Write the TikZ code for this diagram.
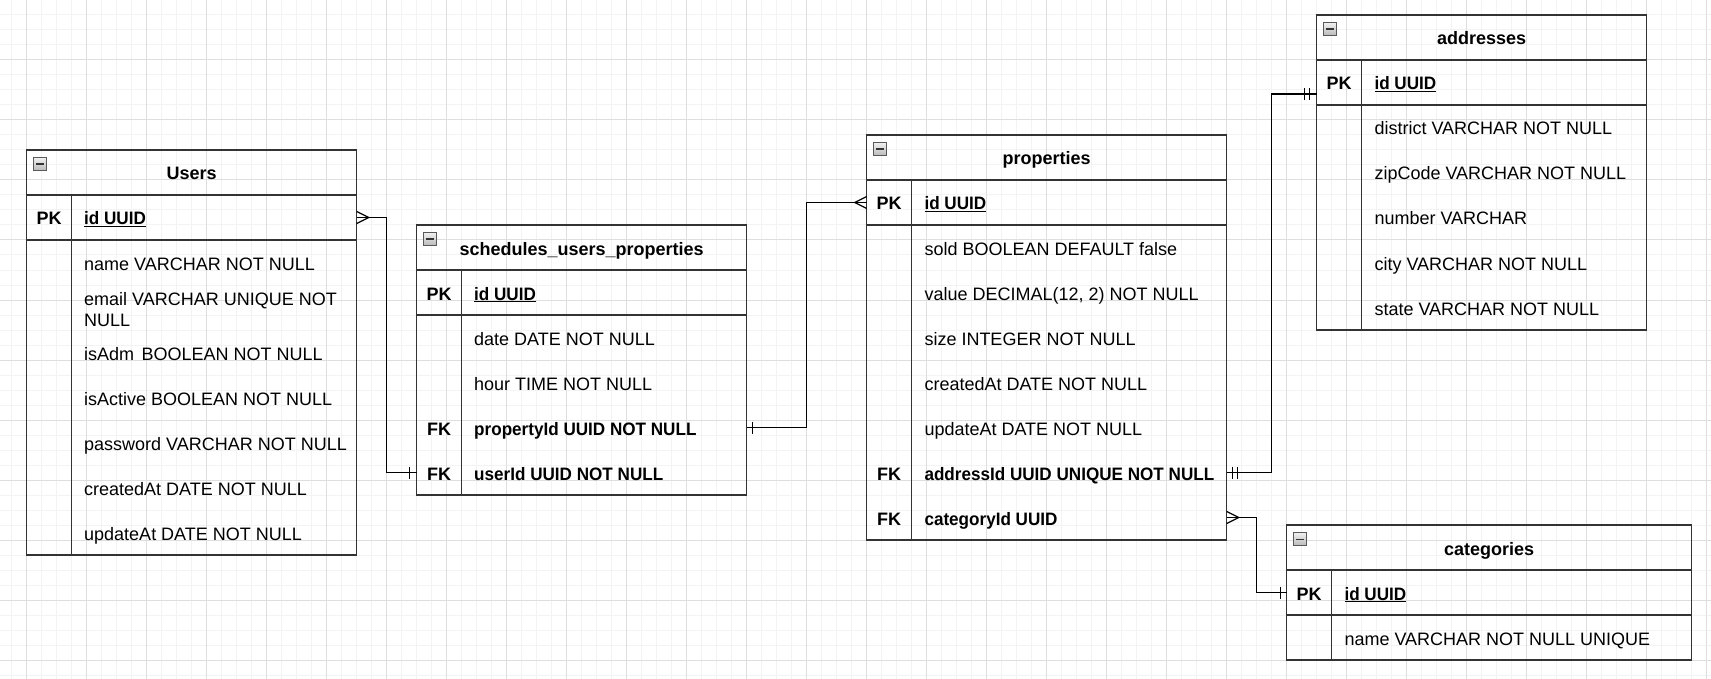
\documentclass[tikz,border=0pt]{standalone}
\usepackage{fontspec}
\setmainfont{Liberation Sans}
\newfontfamily\fldbfont[FakeStretch=0.95]{Liberation Sans}
\definecolor{boxc}{HTML}{333333}
\definecolor{gmaj}{HTML}{DEDEDE}
\definecolor{gmin}{HTML}{F3F3F3}
\begin{document}
\begin{tikzpicture}[x=1pt,y=-1pt,
  every node/.style={font=\fontsize{18}{20.3}\selectfont, text=black},
  tbl/.style={draw=boxc, line width=1.5pt, anchor=north west, inner sep=0pt, outer sep=0pt},
  sep/.style={draw=boxc, line width=1.5pt},
  ttl/.style={font=\fontsize{18}{20.3}\selectfont\bfseries, text height=16pt, text depth=1pt, inner sep=0pt},
  keycell/.style={minimum width=45pt, minimum height=45pt, inner sep=0pt, outer sep=0pt, text height=16pt, text depth=1pt, font=\fontsize{18}{20.3}\selectfont\bfseries},
  fld/.style={anchor=base west, inner sep=0pt},
  fldb/.style={fld, font=\fontsize{18}{20.3}\fldbfont\bfseries},
  minusbox/.style={draw=gray!70!black, line width=0.6pt, top color=gray!12, bottom color=gray!55, minimum size=13pt, inner sep=0pt},
  minusline/.style={draw=black!80, line width=1.4pt},
  conn/.style={draw=black, line width=1.2pt},
  gminor/.style={draw=gmin, line width=1pt},
  gmajor/.style={draw=gmaj, line width=1pt},
]
\useasboundingbox (0,0) rectangle (1711,679);
\fill[white] (0,0) rectangle (1711,679);
% grid
\foreach \i in {0,...,113} {\draw[gminor] (11.7+15*\i,0) -- (11.7+15*\i,679);}
\foreach \j in {0,...,45} {\draw[gminor] (0,15*\j) -- (1711,15*\j);}
\foreach \i in {0,...,28} {\draw[gmajor] (26.7+60*\i,0) -- (26.7+60*\i,679);}
\foreach \j in {0,...,11} {\draw[gmajor] (0,60*\j) -- (1711,60*\j);}

% ---------------- Users ----------------
\node[tbl, minimum width=330pt, minimum height=405pt] (users) at (26.7,150) {};
\draw[sep] (26.7,195) -- (356.7,195);
\draw[sep] (26.7,240) -- (356.7,240);
\draw[sep] (71.7,195) -- (71.7,555);
\node[minusbox] (users-m) at (40,164.2) {};
\draw[minusline] ([xshift=-3.8pt]users-m.center) -- ([xshift=3.8pt]users-m.center);
\node[ttl] (users-t) at (191.7,172.5) {Users};
\node[keycell] (users-pk) at (49.2,217.5) {PK};
\node[fldb] at (84,225) {\underline{id UUID}};
\node[fld] at (84,270) {name VARCHAR NOT NULL};
\node[fld] at (84,305.7) {email VARCHAR UNIQUE NOT};
\node[fld] at (84,326) {NULL};
\node[fld] at (84,360) {isAdm\kern2.5pt{} BOOLEAN NOT NULL};
\node[fld] at (84,405) {isActive BOOLEAN NOT NULL};
\node[fld] at (84,450) {password VARCHAR NOT NULL};
\node[fld] at (84,495) {createdAt DATE NOT NULL};
\node[fld] at (84,540) {updateAt DATE NOT NULL};

% ---------------- schedules_users_properties ----------------
\node[tbl, minimum width=330pt, minimum height=270pt] (sup) at (416.7,225) {};
\draw[sep] (416.7,270) -- (746.7,270);
\draw[sep] (416.7,315) -- (746.7,315);
\draw[sep] (461.7,270) -- (461.7,495);
\node[minusbox] (sup-m) at (430,239.2) {};
\draw[minusline] ([xshift=-3.8pt]sup-m.center) -- ([xshift=3.8pt]sup-m.center);
\node[ttl] (sup-t) at (581.7,247.5) {schedules\_users\_properties};
\node[keycell] (sup-pk) at (439.2,292.5) {PK};
\node[fldb] at (474,300) {\underline{id UUID}};
\node[fld] at (474,345) {date DATE NOT NULL};
\node[fld] at (474,390) {hour TIME NOT NULL};
\node[keycell] (sup-fk1) at (439.2,427.5) {FK};
\node[fldb] at (474,435) {propertyId UUID NOT NULL};
\node[keycell] (sup-fk2) at (439.2,472.5) {FK};
\node[fldb] at (474,480) {userId UUID NOT NULL};

% ---------------- properties ----------------
\node[tbl, minimum width=360pt, minimum height=405pt] (prop) at (866.7,135) {};
\draw[sep] (866.7,180) -- (1226.7,180);
\draw[sep] (866.7,225) -- (1226.7,225);
\draw[sep] (911.7,180) -- (911.7,540);
\node[minusbox] (prop-m) at (880,149.2) {};
\draw[minusline] ([xshift=-3.8pt]prop-m.center) -- ([xshift=3.8pt]prop-m.center);
\node[ttl] (prop-t) at (1046.7,157.5) {properties};
\node[keycell] (prop-pk) at (889.2,202.5) {PK};
\node[fldb] at (924.3,210) {\underline{id UUID}};
\node[fld] at (924.3,255) {sold BOOLEAN DEFAULT false};
\node[fld] at (924.3,300) {value DECIMAL(12, 2) NOT NULL};
\node[fld] at (924.3,345) {size INTEGER NOT NULL};
\node[fld] at (924.3,390) {createdAt DATE NOT NULL};
\node[fld] at (924.3,435) {updateAt DATE NOT NULL};
\node[keycell] (prop-fk1) at (889.2,472.5) {FK};
\node[fldb] at (924.3,480) {addressId UUID UNIQUE NOT NULL};
\node[keycell] (prop-fk2) at (889.2,517.5) {FK};
\node[fldb] at (924.3,525) {categoryId UUID};

% ---------------- addresses ----------------
\node[tbl, minimum width=330pt, minimum height=315pt] (addr) at (1316.7,15) {};
\draw[sep] (1316.7,60) -- (1646.7,60);
\draw[sep] (1316.7,105) -- (1646.7,105);
\draw[sep] (1361.7,60) -- (1361.7,330);
\node[minusbox] (addr-m) at (1330,29.2) {};
\draw[minusline] ([xshift=-3.8pt]addr-m.center) -- ([xshift=3.8pt]addr-m.center);
\node[ttl] (addr-t) at (1481.7,37.5) {addresses};
\node[keycell] (addr-pk) at (1339.2,82.5) {PK};
\node[fldb] at (1374.3,90) {\underline{id UUID}};
\node[fld] at (1374.3,135) {district VARCHAR NOT NULL};
\node[fld] at (1374.3,180) {zipCode VARCHAR NOT NULL};
\node[fld] at (1374.3,225) {number VARCHAR};
\node[fld] at (1374.3,270) {city VARCHAR NOT NULL};
\node[fld] at (1374.3,315) {state VARCHAR NOT NULL};

% ---------------- categories ----------------
\node[tbl, minimum width=405pt, minimum height=135pt] (cat) at (1286.7,525) {};
\draw[sep] (1286.7,570) -- (1691.7,570);
\draw[sep] (1286.7,615) -- (1691.7,615);
\draw[sep] (1331.7,570) -- (1331.7,660);
\node[minusbox] (cat-m) at (1300,539.2) {};
\draw[minusline] ([xshift=-3.8pt]cat-m.center) -- ([xshift=3.8pt]cat-m.center);
\node[ttl] (cat-t) at (1489.2,547.5) {categories};
\node[keycell] (cat-pk) at (1309.2,592.5) {PK};
\node[fldb] at (1344.3,600) {\underline{id UUID}};
\node[fld] at (1344.3,645) {name VARCHAR NOT NULL UNIQUE};

% ---------------- connectors ----------------
% Users.id (many) -- schedules.userId (one)
\draw[conn] (users-pk -| users.east) -- ++(30,0) |- (sup-fk2.west);
\draw[conn] (users-pk -| users.east) ++(0,-6) -- ++(12,6) -- ++(-12,6);
\draw[conn] (sup-fk2.west) ++(-7,-6) -- ++(0,12);
% schedules.propertyId (one) -- properties.id (many)
\draw[conn] (sup-fk1 -| sup.east) -- ++(60,0) |- (prop-pk.west);
\draw[conn] (sup-fk1 -| sup.east) ++(6,-6) -- ++(0,12);
\draw[conn] (prop-pk.west) ++(0,-6) -- ++(-12,6) -- ++(12,6);
% properties.addressId (one and only one) -- addresses.id (one and only one)
\draw[conn] (prop-fk1 -| prop.east) -- ++(45,0) |- ([yshift=-11.5pt]addr-pk.west);
\draw[conn] (prop-fk1 -| prop.east) ++(6,-6) -- ++(0,12);
\draw[conn] (prop-fk1 -| prop.east) ++(11,-6) -- ++(0,12);
\draw[conn] ([yshift=-11.5pt]addr-pk.west) ++(-7.4,-6) -- ++(0,12);
\draw[conn] ([yshift=-11.5pt]addr-pk.west) ++(-12.4,-6) -- ++(0,12);
% properties.categoryId (many) -- categories.id (one)
\draw[conn] (prop-fk2 -| prop.east) -- ++(30,0) |- (cat-pk.west);
\draw[conn] (prop-fk2 -| prop.east) ++(0,-6) -- ++(12,6) -- ++(-12,6);
\draw[conn] (cat-pk.west) ++(-6,-6) -- ++(0,12);
\end{tikzpicture}
\end{document}
